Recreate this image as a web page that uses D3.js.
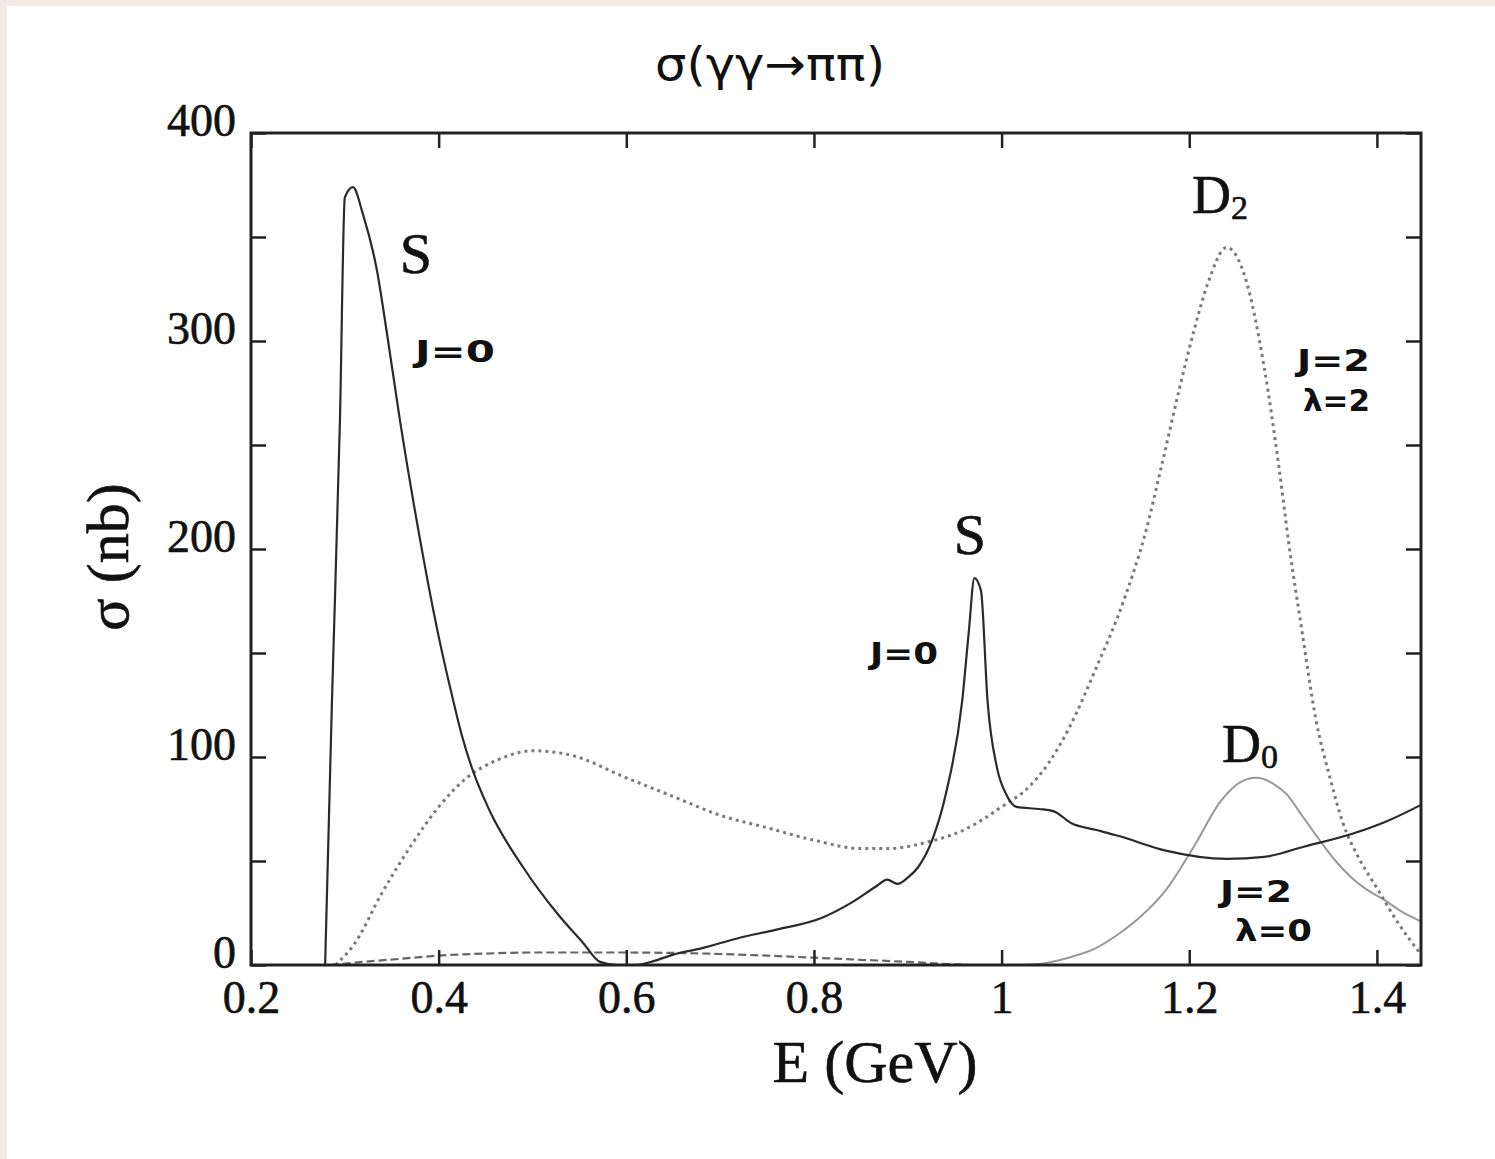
<!DOCTYPE html>
<html>
<head>
<meta charset="utf-8">
<script src="https://cdn.jsdelivr.net/npm/d3@7"></script>
<style>
    body { margin: 0; background: #fff; }
    .tick text { font-family: "Liberation Serif", "DejaVu Serif", serif; fill: #111; stroke: #111; stroke-width: 0.6px; }
    .hand { font-family: "DejaVu Sans", sans-serif; font-weight: bold; fill: #111; }
    .serif { font-family: "Liberation Serif", serif; fill: #111; stroke: #111; stroke-width: 0.6px; }
</style>
</head>
<body>
<div id="chart"></div>
<script>
    // axis ticks
    const xTicks = [0.2, 0.4, 0.6, 0.8, 1, 1.2, 1.4];
    const yTicks = [0, 100, 200, 300, 400];
    const yMinor = [50, 150, 250, 350];

    // S wave, J=0 (solid)  [E (GeV), sigma (nb)]
    const sWave = [
        [0.279, 0], [0.2863, 127], [0.2948, 262], [0.300, 369], [0.3086, 374], [0.3193, 361],
        [0.3342, 334], [0.3448, 304], [0.3587, 262], [0.38, 205], [0.40, 158], [0.414, 130],
        [0.425, 110], [0.436, 94], [0.4545, 74], [0.49, 47], [0.526, 25], [0.554, 10.6],
        [0.572, 1.5], [0.59, 0], [0.61, 0], [0.63, 2], [0.65, 5], [0.68, 8], [0.72, 13],
        [0.76, 17], [0.81, 23], [0.84, 30], [0.867, 38], [0.878, 41], [0.889, 39], [0.90, 42],
        [0.911, 47], [0.926, 60], [0.941, 83], [0.958, 127], [0.965, 160], [0.971, 186],
        [0.978, 180], [0.985, 127], [0.995, 95], [1.005, 82], [1.016, 76], [1.04, 75],
        [1.055, 74], [1.075, 68], [1.10, 65], [1.125, 62], [1.175, 55], [1.24, 51],
        [1.28, 52], [1.323, 57], [1.373, 63], [1.41, 69], [1.447, 77]
    ];

    // D wave, J=2 lambda=2 (dotted)
    const d2Wave = [
        [0.29, 0], [0.31, 10], [0.34, 35], [0.37, 57], [0.40, 76], [0.43, 90], [0.465, 99],
        [0.50, 103], [0.54, 101], [0.60, 90], [0.65, 81], [0.70, 72], [0.75, 66], [0.80, 60],
        [0.85, 56], [0.88, 56], [0.92, 59], [0.96, 65], [1.00, 76], [1.03, 86], [1.05, 97],
        [1.072, 114], [1.10, 142], [1.13, 175], [1.154, 209], [1.171, 241], [1.19, 278],
        [1.205, 305], [1.22, 328], [1.24, 345], [1.26, 330], [1.28, 287], [1.296, 238],
        [1.306, 203], [1.32, 161], [1.335, 118], [1.35, 90], [1.364, 68], [1.38, 52],
        [1.40, 37], [1.42, 22], [1.447, 5]
    ];

    // D wave, J=2 lambda=0 (grey)
    const d0Wave = [
        [1.02, 0], [1.04, 0.5], [1.075, 4], [1.10, 8], [1.125, 15], [1.15, 24], [1.175, 36],
        [1.205, 57], [1.234, 79], [1.255, 88], [1.271, 90], [1.29, 87], [1.304, 82],
        [1.32, 72], [1.339, 60], [1.356, 50], [1.373, 42], [1.39, 36], [1.409, 31],
        [1.425, 26], [1.447, 21]
    ];

    // small dashed contribution near zero
    const smallWave = [
        [0.285, 0], [0.32, 1.5], [0.36, 3], [0.40, 4.5], [0.45, 5.5], [0.50, 6], [0.60, 6],
        [0.65, 5.8], [0.70, 5.3], [0.75, 4.5], [0.80, 3.5], [0.85, 2.5], [0.90, 1.5],
        [0.95, 0.3], [0.97, 0]
    ];

    const W = 1495, H = 1159;
    const svg = d3.select('#chart').append('svg')
        .attr('width', W).attr('height', H);

    svg.append('rect').attr('width', W).attr('height', H).attr('fill', '#fff');
    svg.append('rect').attr('width', W).attr('height', 6).attr('fill', '#f2ebe5');
    svg.append('rect').attr('width', 7).attr('height', H).attr('fill', '#f2ebe5');

    const x = d3.scaleLinear().domain([0.2, 1.447]).range([251, 1421]);
    const y = d3.scaleLinear().domain([0, 400]).range([965, 133]);

    svg.append('defs').append('clipPath').attr('id', 'plot')
        .append('rect').attr('x', 251).attr('y', 133).attr('width', 1170).attr('height', 832);

    const line = d3.line()
        .x(d => x(d[0]))
        .y(d => y(d[1]))
        .curve(d3.curveMonotoneX);

    const curves = svg.append('g').attr('clip-path', 'url(#plot)');

    curves.append('path').datum(smallWave)
        .attr('d', line).attr('fill', 'none')
        .attr('stroke', '#666').attr('stroke-width', 2.2).attr('stroke-dasharray', '8,4');

    curves.append('path').datum(d0Wave)
        .attr('d', line).attr('fill', 'none')
        .attr('stroke', '#999').attr('stroke-width', 2);

    curves.append('path').datum(d2Wave)
        .attr('d', line).attr('fill', 'none')
        .attr('stroke', '#7a7a7a').attr('stroke-width', 3).attr('stroke-dasharray', '3,4');

    curves.append('path').datum(sWave)
        .attr('d', line).attr('fill', 'none')
        .attr('stroke', '#2a2a2a').attr('stroke-width', 2.2);

    // axes, ticks inward on all four sides
    const fmt = d => d3.format('')(d);
    const axB = svg.append('g').attr('transform', 'translate(0,965)')
        .call(d3.axisBottom(x).tickValues(xTicks).tickSize(-15).tickFormat(fmt));
    axB.selectAll('text').attr('y', 48).attr('dy', 0).style('font-size', '46px');

    const axT = svg.append('g').attr('transform', 'translate(0,133)')
        .call(d3.axisTop(x).tickValues(xTicks).tickSize(-15).tickFormat(''));

    const axL = svg.append('g').attr('transform', 'translate(251,0)')
        .call(d3.axisLeft(y).tickValues(yTicks.concat(yMinor)).tickSize(-15)
            .tickFormat(d => yTicks.includes(d) ? d : ''));
    axL.selectAll('text').attr('x', -15).attr('dy', 0).attr('y', 2).style('font-size', '46px');

    const axR = svg.append('g').attr('transform', 'translate(1421,0)')
        .call(d3.axisRight(y).tickValues(yTicks.concat(yMinor)).tickSize(-15).tickFormat(''));

    [axB, axT, axL, axR].forEach(g => {
        g.select('.domain').remove();
        g.selectAll('.tick line').attr('stroke', '#222').attr('stroke-width', 2.5);
    });

    svg.append('rect').attr('x', 251).attr('y', 133).attr('width', 1170).attr('height', 832)
        .attr('fill', 'none').attr('stroke', '#222').attr('stroke-width', 3);

    // axis titles
    svg.append('text').attr('class', 'serif')
        .attr('x', 875).attr('y', 1082).attr('text-anchor', 'middle')
        .style('font-size', '60px').text('E (GeV)');

    svg.append('text').attr('class', 'serif')
        .attr('transform', 'translate(128,557) rotate(-90)').attr('text-anchor', 'middle')
        .style('font-size', '60px').text('σ (nb)');

    // handwritten title
    svg.append('text').attr('class', 'hand')
        .attr('x', 655).attr('y', 80)
        .attr('textLength', 230).attr('lengthAdjust', 'spacingAndGlyphs')
        .style('font-size', '46px').style('font-weight', 'normal').text('σ(γγ→ππ)');

    // peak labels
    const serifLabels = [
        {t: 'S', x: 416, y: 273},
        {t: 'S', x: 970, y: 554}
    ];
    serifLabels.forEach(l => {
        svg.append('text').attr('class', 'serif').attr('x', l.x).attr('y', l.y)
            .attr('text-anchor', 'middle').style('font-size', '58px').text(l.t);
    });

    const dLabels = [
        {t: 'D', s: '2', x: 1192, y: 213},
        {t: 'D', s: '0', x: 1222, y: 762}
    ];
    dLabels.forEach(l => {
        const t = svg.append('text').attr('class', 'serif').attr('x', l.x).attr('y', l.y)
            .style('font-size', '54px').text(l.t);
        t.append('tspan').attr('dy', 6).style('font-size', '34px').text(l.s);
    });

    const handLabels = [
        {t: 'J=0', x: 415, y: 362, w: 80},
        {t: 'J=0', x: 870, y: 664, w: 68},
        {t: 'J=2', x: 1297, y: 371, w: 73},
        {t: 'λ=2', x: 1303, y: 411, w: 67},
        {t: 'J=2', x: 1220, y: 902, w: 72},
        {t: 'λ=0', x: 1235, y: 941, w: 77}
    ];
    handLabels.forEach(l => {
        svg.append('text').attr('class', 'hand').attr('x', l.x).attr('y', l.y)
            .attr('textLength', l.w).attr('lengthAdjust', 'spacingAndGlyphs')
            .style('font-size', '30px').text(l.t);
    });
</script>
</body>
</html>
